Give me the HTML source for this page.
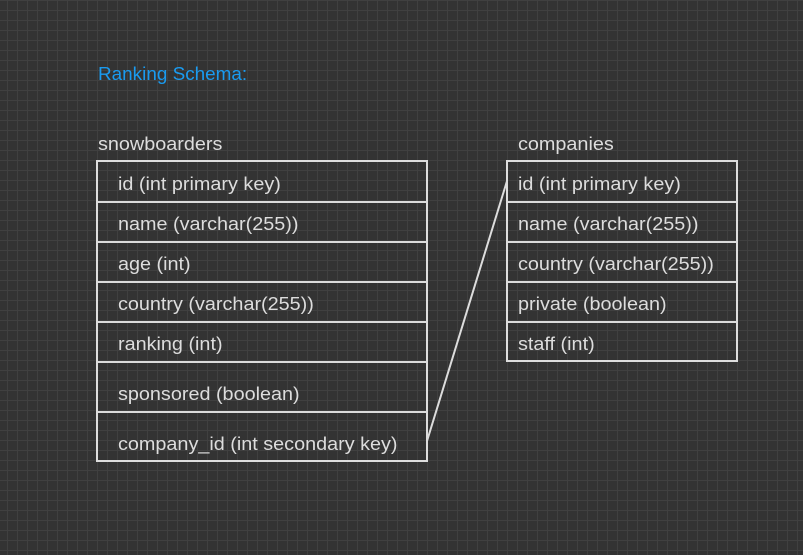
<!DOCTYPE html>
<html><head><style>
body{margin:0;width:803px;height:555px;overflow:hidden;background-color:#333;
background-image:linear-gradient(#404040 1px,transparent 1px),linear-gradient(90deg,#404040 1px,transparent 1px);
background-size:10px 10px;background-position:7px 0;font-family:"Liberation Sans",sans-serif;}
.t{position:absolute;font-size:18px;color:#ddd;white-space:nowrap;transform:scaleX(1.1);transform-origin:0 0}
.b{position:absolute;border:2px solid #ddd;box-sizing:border-box}
.r{position:absolute;left:0;right:0;border-top:2px solid #ddd}
</style></head><body>
<div class="t" style="left:98px;top:64px;color:#1a9bf0;transform:scaleX(1.05)">Ranking Schema:</div>
<div class="t" style="left:98px;top:134px">snowboarders</div>
<div class="t" style="left:518px;top:134px">companies</div>
<div class="b" style="left:96px;top:160px;width:332px;height:302px">
<div class="r" style="top:39px"></div><div class="r" style="top:79px"></div><div class="r" style="top:119px"></div><div class="r" style="top:159px"></div><div class="r" style="top:199px"></div><div class="r" style="top:249px"></div>
</div>
<div class="b" style="left:506px;top:160px;width:232px;height:202px">
<div class="r" style="top:39px"></div><div class="r" style="top:79px"></div><div class="r" style="top:119px"></div><div class="r" style="top:159px"></div>
</div>
<div class="t" style="left:118px;top:174px">id (int primary key)</div>
<div class="t" style="left:118px;top:214px">name (varchar(255))</div>
<div class="t" style="left:118px;top:254px">age (int)</div>
<div class="t" style="left:118px;top:294px">country (varchar(255))</div>
<div class="t" style="left:118px;top:334px">ranking (int)</div>
<div class="t" style="left:118px;top:384px">sponsored (boolean)</div>
<div class="t" style="left:118px;top:434px">company_id (int secondary key)</div>
<div class="t" style="left:518px;top:174px">id (int primary key)</div>
<div class="t" style="left:518px;top:214px">name (varchar(255))</div>
<div class="t" style="left:518px;top:254px">country (varchar(255))</div>
<div class="t" style="left:518px;top:294px">private (boolean)</div>
<div class="t" style="left:518px;top:334px">staff (int)</div>
<svg style="position:absolute;left:0;top:0" width="803" height="555"><line x1="427" y1="441" x2="507" y2="181" stroke="#ddd" stroke-width="2"/></svg>
</body></html>
